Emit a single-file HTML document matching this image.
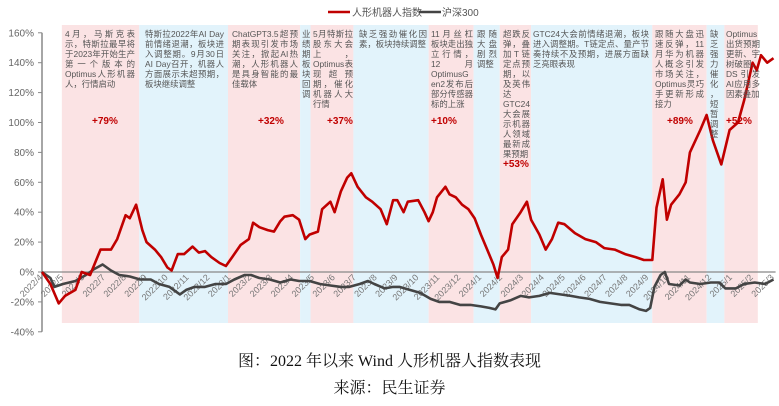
<!DOCTYPE html>
<html><head><meta charset="utf-8">
<style>
body{margin:0;background:#fff;width:779px;height:406px;overflow:hidden;font-family:"Liberation Sans","Noto Sans CJK SC",sans-serif;}
#wrap{position:relative;width:779px;height:406px;}
.note{position:absolute;top:29px;font-size:8.4px;line-height:10px;color:#555;word-break:normal;overflow-wrap:anywhere;text-align:justify;}
.pct{position:absolute;font-size:10px;font-weight:bold;color:#c00000;}
.cap{position:absolute;left:0;width:779px;text-align:center;font-family:"Liberation Serif","Noto Serif CJK SC",serif;font-size:16px;color:#111;}
</style></head><body>
<div id="wrap">
<svg id="chart" width="779" height="406" style="position:absolute;left:0;top:0"></svg>

<div class="note" style="left:65px;width:70px">4月，马斯克表示，特斯拉最早将于2023年开始生产第一个版本的Optimus人形机器人，行情启动</div>
<div class="note" style="left:145px;width:79px">特斯拉2022年AI Day前情绪退潮，板块进入调整期。9月30日AI Day召开，机器人方面展示未超预期，板块继续调整</div>
<div class="note" style="left:232px;width:66px">ChatGPT3.5超预期表现引发市场关注，掀起AI热潮，人形机器人是具身智能的最佳载体</div>
<div class="note" style="left:302px;width:9px">业绩期板块回调</div>
<div class="note" style="left:313px;width:40px">5月特斯拉股东大会上，Optimus表现超预期，催化机器人大行情</div>
<div class="note" style="left:359px;width:68px">缺乏强劲催化因素，板块持续调整</div>
<div class="note" style="left:431px;width:42px">11月丝杠板块走出独立行情，12月OptimusGen2发布后部分传感器标的上涨</div>
<div class="note" style="left:477px;width:20px">跟随大盘剧烈调整</div>
<div class="note" style="left:503px;width:27px">超跌反弹，叠加T链定点预期，以及英伟达GTC24大会展示机器人领域最新成果预期</div>
<div class="note" style="left:533px;width:116px">GTC24大会前情绪退潮，板块进入调整期。T链定点、量产节奏持续不及预期，进展方面缺乏亮眼表现</div>
<div class="note" style="left:655px;width:49px">跟随大盘迅速反弹，11月华为机器人概念引发市场关注，Optimus灵巧手更新形成接力</div>
<div class="note" style="left:710px;width:10px">缺乏强力催化，短暂调整</div>
<div class="note" style="left:726px;width:34px">Optimus出货预期更新、宇树破圈、DS引发AI应用多因素叠加</div>

<div class="pct" style="left:92px;top:116px">+79%</div>
<div class="pct" style="left:258px;top:116px">+32%</div>
<div class="pct" style="left:327px;top:116px">+37%</div>
<div class="pct" style="left:431px;top:116px">+10%</div>
<div class="pct" style="left:503px;top:159px">+53%</div>
<div class="pct" style="left:667px;top:116px">+89%</div>
<div class="pct" style="left:726px;top:116px">+52%</div>

<div class="cap" style="top:348px">图：2022 年以来 Wind 人形机器人指数表现</div>
<div class="cap" style="top:375px">来源：民生证券</div>
</div>
<script>
// months since 2022/4
const bandStarts=[0.95,4.65,8.9,12.35,12.85,14.9,18.5,20.65,21.9,23.4,29.2,31.8,32.65];
const bandEnds=[4.65,8.9,12.35,12.85,14.9,18.5,20.65,21.9,23.4,29.2,31.8,32.65,34.25];
const bandTypes=['up','down','up','down','up','down','up','down','up','down','up','down','up'];
const yTicks=[160,140,120,100,80,60,40,20,0,-20,-40];
const monthLabels=['2022/4','2022/5','2022/6','2022/7','2022/8','2022/9','2022/10','2022/11','2022/12','2023/1','2023/2','2023/3','2023/4','2023/5','2023/6','2023/7','2023/8','2023/9','2023/10','2023/11','2023/12','2024/1','2024/2','2024/3','2024/4','2024/5','2024/6','2024/7','2024/8','2024/9','2024/10','2024/11','2024/12','2025/1','2025/2','2025/3'];
const robotT=[0,0.4,0.8,1.1,1.6,1.9,2.3,2.8,3.3,3.6,4.0,4.2,4.5,4.8,5.0,5.4,5.7,6.0,6.2,6.5,6.8,7.2,7.5,7.8,8.1,8.5,8.8,9.1,9.5,9.9,10.1,10.4,10.8,11.1,11.4,11.6,12.0,12.3,12.6,12.8,13.2,13.4,13.8,14.0,14.3,14.6,14.8,15.1,15.5,15.8,16.2,16.5,16.8,17.0,17.3,17.5,18.0,18.3,18.5,18.7,18.9,19.3,19.5,19.8,20.1,20.4,20.7,21.0,21.3,21.6,21.8,22.0,22.3,22.5,22.9,23.2,23.4,23.8,24.1,24.4,24.7,25.0,25.5,26.0,26.5,26.9,27.4,27.9,28.4,28.8,29.2,29.4,29.7,29.9,30.1,30.5,30.8,31.0,31.5,31.8,32.1,32.3,32.5,32.9,33.3,33.6,34.0,34.2,34.4,34.7,35.0];
const robotV=[0,-8,-21,-16,-12,0,-2,15,15,22,38,36,45,28,20,15,10,3,1,12,12,17,13,14,10,6,4,10,18,22,33,30,28,27,34,37,38,35,22,25,27,42,47,40,54,63,66,57,50,47,42,32,48,48,40,47,48,40,34,40,50,57,52,50,45,42,36,25,15,5,-4,10,15,32,40,47,35,25,15,22,33,32,26,22,20,16,15,12,10,8,8,43,62,35,45,52,60,80,95,105,88,80,72,95,100,115,140,135,145,140,143];
const hsT=[0,0.4,0.6,1.0,1.6,2.1,2.5,2.9,3.3,3.7,4.2,4.7,5.2,5.6,6.1,6.6,6.9,7.3,7.8,8.3,8.8,9.2,9.7,10.0,10.4,10.9,11.4,11.9,12.3,12.8,13.3,13.8,14.3,14.7,15.2,15.6,15.9,16.4,16.8,17.1,17.6,18.1,18.6,19.0,19.5,20.0,20.5,21.0,21.4,21.7,21.9,22.4,22.9,23.3,23.8,24.3,24.8,25.3,25.7,26.2,26.7,27.2,27.7,28.1,28.6,28.9,29.1,29.3,29.6,29.8,30.0,30.5,30.8,31.0,31.5,32.0,32.4,32.7,33.2,33.6,34.1,34.6,35.0];
const hsV=[0,-4,-10,-8,-6,-2,2,5,1,-2,-3,-5,-5,-8,-10,-15,-12,-10,-10,-8,-8,-5,-2,-2,-4,-5,-7,-5,-6,-6,-8,-9,-10,-10,-8,-6,-8,-11,-10,-10,-12,-14,-18,-20,-20,-22,-22,-23,-24,-25,-21,-19,-16,-17,-16,-14,-15,-16,-17,-18,-20,-21,-22,-22,-25,-26,-24,-10,-2,0,-8,-9,-5,-7,-8,-7,-7,-11,-11,-8,-7,-8,-5];

const X0=42, PX_PER_M=20.9, Y0=272, PX_PER_PCT=1.495;
const xs=t=>X0+t*PX_PER_M;
const ys=v=>Y0-v*PX_PER_PCT;
const svg=document.getElementById('chart');
const NS='http://www.w3.org/2000/svg';
function mk(tag,attrs){const e=document.createElementNS(NS,tag);for(const k in attrs)e.setAttribute(k,attrs[k]);svg.appendChild(e);return e;}

bandStarts.forEach((s,i)=>{
  const r=mk('rect',{x:xs(s),y:25,width:xs(bandEnds[i])-xs(s),height:298,fill:bandTypes[i]==='up'?'#fbe3e4':'#e2f3fb'});
  
  
});
const ax=mk('line',{x1:X0,y1:ys(160),x2:X0,y2:ys(-40),stroke:'#888','stroke-width':1.5});


yTicks.forEach(v=>{
  const tk=mk('line',{x1:X0-4,y1:ys(v),x2:X0,y2:ys(v),stroke:'#888'});
  
  
  const t=mk('text',{x:X0-8,y:ys(v)+3.5,'text-anchor':'end','font-size':10,fill:'#666','font-family':'Liberation Sans, sans-serif'});
  t.textContent=v+'%';
  
  
});
const zl=mk('line',{x1:X0,y1:Y0,x2:xs(35.1),y2:Y0,stroke:'#888','stroke-width':1.2});


monthLabels.forEach((m,i)=>{
  const x=xs(i)+1,y=Y0+6;
  const t=mk('text',{x:x,y:y,'text-anchor':'end','font-size':9,fill:'#777',transform:`rotate(-45 ${x} ${y})`,'font-family':'Liberation Sans, sans-serif'});
  t.textContent=m;
  
  
});
function line(T,V,color,name){
  const d=T.map((t,i)=>(i?'L':'M')+xs(t).toFixed(1)+','+ys(V[i]).toFixed(1)).join('');
  const p=mk('path',{d:d,fill:'none',stroke:color,'stroke-width':2.6,'stroke-linejoin':'round'});
  
  
}
line(hsT,hsV,'#444','series-hs300');
line(robotT,robotV,'#c00000','series-robot-index');
const l1=mk('line',{x1:328,y1:12,x2:350,y2:12,stroke:'#c00000','stroke-width':2.6});


const lt1=mk('text',{x:352,y:16,'font-size':10,fill:'#555','font-family':'Liberation Sans, Noto Sans CJK SC, sans-serif'});
lt1.textContent='人形机器人指数';


const l2=mk('line',{x1:419,y1:12,x2:441,y2:12,stroke:'#444','stroke-width':2.6});


const lt2=mk('text',{x:442,y:16,'font-size':10,fill:'#555','font-family':'Liberation Sans, Noto Sans CJK SC, sans-serif'});
lt2.textContent='沪深300';


</script>
</body></html>
